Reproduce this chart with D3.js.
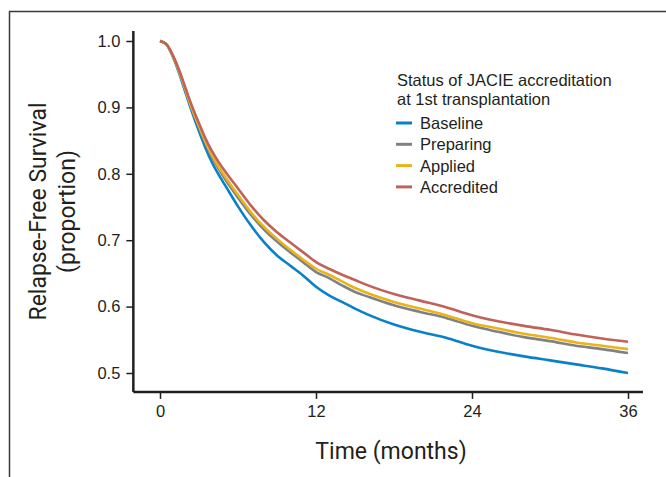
<!DOCTYPE html>
<html>
<head>
<meta charset="utf-8">
<script src="https://cdn.jsdelivr.net/npm/d3@7"></script>
<style>
  html, body { margin: 0; padding: 0; background: #fff; }
  svg { display: block; }
</style>
</head>
<body>
<div id="chart"></div>
<script>
// Months since first transplantation
const months = [0, 0.5, 1, 1.5, 2, 2.5, 3, 3.5, 4, 4.5, 5, 6, 7, 8, 9, 10, 11, 12, 13, 14, 15, 16, 18, 20, 22, 24, 26, 28, 30, 32, 34, 36];

// Relapse-free survival (proportion)
const baseline   = [1, 0.995, 0.976, 0.950, 0.920, 0.891, 0.864, 0.839, 0.817, 0.799, 0.783, 0.751, 0.722, 0.697, 0.677, 0.662, 0.647, 0.630, 0.617, 0.607, 0.597, 0.588, 0.573, 0.562, 0.553, 0.541, 0.532, 0.525, 0.519, 0.513, 0.507, 0.500];
const preparing  = [1, 0.995, 0.977, 0.952, 0.923, 0.895, 0.870, 0.846, 0.825, 0.808, 0.792, 0.764, 0.738, 0.716, 0.698, 0.682, 0.667, 0.652, 0.643, 0.632, 0.622, 0.615, 0.602, 0.592, 0.583, 0.571, 0.562, 0.554, 0.548, 0.541, 0.536, 0.530];
const applied    = [1, 0.995, 0.977, 0.953, 0.924, 0.896, 0.872, 0.848, 0.828, 0.811, 0.796, 0.768, 0.742, 0.720, 0.702, 0.686, 0.671, 0.657, 0.648, 0.638, 0.628, 0.620, 0.607, 0.597, 0.587, 0.575, 0.567, 0.559, 0.553, 0.546, 0.541, 0.536];
const accredited = [1, 0.995, 0.978, 0.955, 0.927, 0.900, 0.876, 0.853, 0.834, 0.818, 0.804, 0.778, 0.752, 0.730, 0.712, 0.697, 0.682, 0.667, 0.657, 0.648, 0.640, 0.632, 0.619, 0.609, 0.599, 0.587, 0.578, 0.571, 0.565, 0.558, 0.552, 0.547];

const seriesNames = ['Baseline', 'Preparing', 'Applied', 'Accredited'];
const seriesValues = [baseline, preparing, applied, accredited];
const xTicks = [0, 12, 24, 36];
const yTicks = [0.5, 0.6, 0.7, 0.8, 0.9, 1.0];

const colors = {
    Baseline: '#0a80c8',
    Preparing: '#808184',
    Applied: '#e8b41c',
    Accredited: '#c0625a'
};

const width = 666, height = 477;

const svg = d3.select('#chart')
    .append('svg')
    .attr('width', width)
    .attr('height', height);

// Outer frame (left + top rule)
svg.append('path')
    .attr('d', 'M9.5,477 V11.5 H666')
    .attr('fill', 'none')
    .attr('stroke', '#3a3a3a')
    .attr('stroke-width', 1.5);

// Scales
const x = d3.scaleLinear().domain([0, 36]).range([160, 628]);
const y = d3.scaleLinear().domain([0.5, 1.0]).range([373, 41]);
const xMin = -2.05, xMax = 37.15;
const yMin = 0.4715, yMax = 1.015;
const axisColor = '#231f20';

// X axis
const xAxis = svg.append('g')
    .attr('transform', `translate(0,${y(yMin)})`)
    .call(d3.axisBottom(x).tickValues(xTicks).tickSize(7).tickPadding(6).tickSizeOuter(0));
xAxis.select('.domain').remove();
xAxis.append('line')
    .attr('x1', x(xMin)).attr('x2', x(xMax))
    .attr('stroke', axisColor).attr('stroke-width', 2.5);

// Y axis
const yAxis = svg.append('g')
    .attr('transform', `translate(${x(xMin)},0)`)
    .call(d3.axisLeft(y).tickValues(yTicks).tickFormat(d3.format('.1f')).tickSize(7).tickPadding(6).tickSizeOuter(0));
yAxis.select('.domain').remove();
yAxis.append('line')
    .attr('y1', y(yMin)).attr('y2', y(yMax))
    .attr('stroke', axisColor).attr('stroke-width', 2.5);

svg.selectAll('.tick line')
    .attr('stroke', axisColor)
    .attr('stroke-width', 1.5);
svg.selectAll('.tick text')
    .attr('fill', '#231f20')
    .style('font-family', '"Liberation Sans", Arial, sans-serif')
    .style('font-size', '16.5px');

// Axis titles
svg.append('text')
    .attr('x', 391)
    .attr('y', 459)
    .attr('text-anchor', 'middle')
    .attr('fill', '#231f20')
    .style('font-family', 'Roboto, sans-serif')
    .style('font-size', '23px')
    .text('Time (months)');

const yTitle = svg.append('text')
    .attr('transform', `translate(0,${(y(yMin) + y(yMax)) / 2}) rotate(-90)`)
    .attr('text-anchor', 'middle')
    .attr('fill', '#231f20')
    .style('font-family', 'Roboto, sans-serif')
    .style('font-size', '23px');
yTitle.append('tspan').attr('x', 0).attr('y', 46).text('Relapse-Free Survival');
yTitle.append('tspan').attr('x', 0).attr('y', 75).text('(proportion)');

// Curves
const line = d3.line()
    .x((d, i) => x(months[i]))
    .y(d => y(d))
    .curve(d3.curveMonotoneX);

svg.append('g')
    .selectAll('path')
    .data(seriesNames)
    .join('path')
    .attr('d', (name, i) => line(seriesValues[i]))
    .attr('fill', 'none')
    .attr('stroke', name => colors[name])
    .attr('stroke-width', 2.6)
    .attr('stroke-linejoin', 'round');

// Legend
const legend = svg.append('g')
    .attr('transform', 'translate(397,0)')
    .style('font-family', '"Liberation Sans", Arial, sans-serif')
    .style('font-size', '16.5px')
    .attr('fill', '#231f20');

legend.append('text').attr('x', 0).attr('y', 86).text('Status of JACIE accreditation');
legend.append('text').attr('x', 0).attr('y', 105).text('at 1st transplantation');

const items = legend.selectAll('.item')
    .data(seriesNames)
    .join('g')
    .attr('class', 'item')
    .attr('transform', (d, i) => `translate(0,${129 + i * 21.3})`);

items.append('line')
    .attr('x1', -1).attr('x2', 15)
    .attr('y1', -6).attr('y2', -6)
    .attr('stroke', d => colors[d])
    .attr('stroke-width', 3);

items.append('text')
    .attr('x', 23)
    .attr('y', 0)
    .text(d => d);
</script>
</body>
</html>
